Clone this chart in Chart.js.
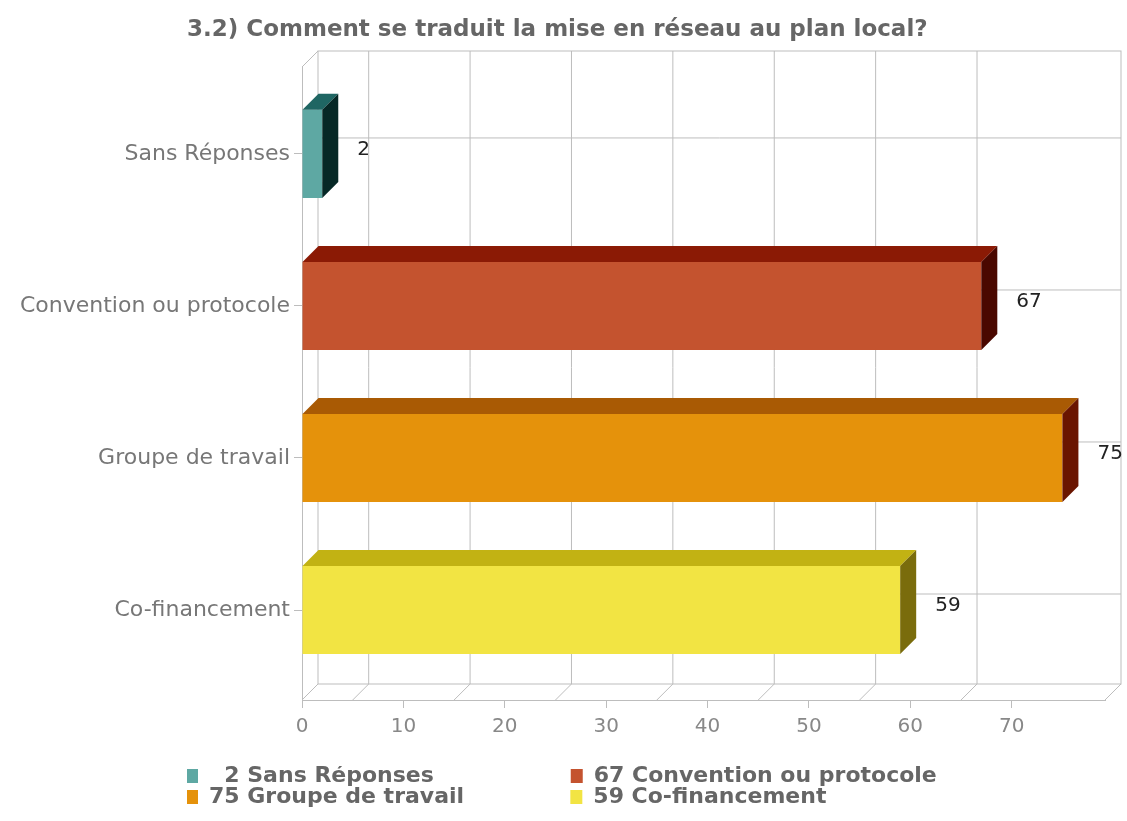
<!DOCTYPE html>
<html>
<head>
<meta charset="utf-8">
<script src="https://cdn.jsdelivr.net/npm/chart.js@4.4.1/dist/chart.umd.min.js"></script>
<style>
  html, body { margin: 0; padding: 0; background: #fff; }
  #wrap { width: 1127px; height: 821px; }
</style>
</head>
<body>
<div id="wrap"><canvas id="reseau"></canvas></div>
<script>
const categories = ['Sans Réponses', 'Convention ou protocole', 'Groupe de travail', 'Co-financement'];
const values = [2, 67, 75, 59];
const xTicks = [0, 10, 20, 30, 40, 50, 60, 70];
const backGrid = [5, 15, 25, 35, 45, 55, 65];

const frontColors = ['#5ea8a3', '#c4532f', '#e5920b', '#f2e443'];
const topColors = ['#1f6663', '#8b1a05', '#a95a04', '#c2b213'];
const sideColors = ['#062826', '#4a0800', '#6a1500', '#7a6c0c'];

const DX = 16, DY = 16;
const GRID = '#bdbdbd';
const LEGEND_FONT = 'bold 22px "DejaVu Sans"';

// pad legend text of first column so the second column lines up
const measure = document.createElement('canvas').getContext('2d');
measure.font = LEGEND_FONT;
function padTo(t, w) {
  while (measure.measureText(t).width < w) t += ' ';
  return t;
}

function line(ctx, x0, y0, x1, y1) {
  ctx.beginPath();
  ctx.moveTo(x0, y0);
  ctx.lineTo(x1, y1);
  ctx.stroke();
}

// back wall, floor and shifted grid lines of the 3D frame
const frame3d = {
  id: 'frame3d',
  beforeDatasetsDraw(chart) {
    const {ctx, chartArea: a, scales: {x, y}} = chart;
    const bx0 = a.left + DX, bx1 = a.right + DX;
    const by0 = a.top - DY, by1 = a.bottom - DY;
    ctx.save();
    ctx.strokeStyle = GRID;
    ctx.lineWidth = 1;
    ctx.strokeRect(bx0, by0, bx1 - bx0, by1 - by0);
    line(ctx, a.left, a.top, bx0, by0);
    line(ctx, a.left, a.bottom, bx0, by1);
    line(ctx, a.right, a.bottom, bx1, by1);
    backGrid.forEach(v => {
      const px = x.getPixelForValue(v);
      line(ctx, px + DX, by0, px + DX, by1);
      line(ctx, px, a.bottom, px + DX, by1);
    });
    categories.forEach((c, i) => {
      const py = y.getPixelForValue(i) - DY;
      line(ctx, bx0, py, bx1, py);
    });
    ctx.restore();
  }
};

// top and side faces of the bars plus value labels
const bars3d = {
  id: 'bars3d',
  afterDatasetsDraw(chart) {
    const {ctx} = chart;
    const meta = chart.getDatasetMeta(0);
    ctx.save();
    meta.data.forEach((el, i) => {
      const {x, y, base, height} = el.getProps(['x', 'y', 'base', 'height'], true);
      const top = y - height / 2, bottom = y + height / 2;
      ctx.fillStyle = topColors[i];
      ctx.beginPath();
      ctx.moveTo(base, top);
      ctx.lineTo(base + DX, top - DY);
      ctx.lineTo(x + DX, top - DY);
      ctx.lineTo(x, top);
      ctx.closePath();
      ctx.fill();
      ctx.fillStyle = sideColors[i];
      ctx.beginPath();
      ctx.moveTo(x, top);
      ctx.lineTo(x + DX, top - DY);
      ctx.lineTo(x + DX, bottom - DY);
      ctx.lineTo(x, bottom);
      ctx.closePath();
      ctx.fill();
      ctx.fillStyle = '#222';
      ctx.font = '20px "DejaVu Sans"';
      ctx.textAlign = 'left';
      ctx.textBaseline = 'middle';
      ctx.fillText(String(values[i]), x + 35, y - 4);
    });
    ctx.restore();
  }
};

new Chart(document.getElementById('reseau'), {
  type: 'bar',
  data: {
    datasets: [{
      data: values.map((v, i) => ({x: v, y: i})),
      backgroundColor: frontColors,
      borderWidth: 0,
      categoryPercentage: 1,
      barPercentage: 0.58
    }]
  },
  options: {
    indexAxis: 'y',
    responsive: true,
    maintainAspectRatio: false,
    animation: false,
    layout: { padding: { left: 187, right: 22, top: 0, bottom: 3 } },
    plugins: {
      tooltip: { enabled: false },
      title: {
        display: true,
        text: '3.2) Comment se traduit la mise en réseau au plan local?',
        align: 'start',
        color: '#666',
        font: { family: 'DejaVu Sans', size: 23, weight: 'bold' },
        padding: { top: 16, bottom: 23.4 }
      },
      legend: {
        position: 'bottom',
        align: 'start',
        labels: {
          boxWidth: 12,
          boxHeight: 14,
          padding: -1,
          color: '#666',
          font: { family: 'DejaVu Sans', size: 22, weight: 'bold' },
          generateLabels: () => categories.map((c, i) => {
            let t = String(values[i]).padStart(2, '\u2007') + ' ' + c;
            if (i % 2 === 0) t = padTo(t, 360);
            return {
              text: t,
              fillStyle: frontColors[i],
              strokeStyle: frontColors[i],
              fontColor: '#666',
              lineWidth: 0,
              hidden: false,
              index: i
            };
          })
        }
      }
    },
    scales: {
      x: {
        type: 'linear',
        min: 0,
        max: 79.2,
        afterBuildTicks: s => { s.ticks = xTicks.map(v => ({value: v})); },
        afterFit: s => { s.height = 66; },
        grid: { drawOnChartArea: false, drawTicks: true, tickLength: 8, color: GRID },
        border: { display: true, color: GRID },
        ticks: { color: '#888', padding: 7, font: { family: 'DejaVu Sans', size: 20 } }
      },
      y: {
        type: 'linear',
        reverse: true,
        offset: false,
        min: -0.572,
        max: 3.592,
        afterBuildTicks: s => { s.ticks = categories.map((c, i) => ({value: i})); },
        afterFit: s => {
          s.width = 115;
          // let the long labels run into the left padding
          s._computeLabelArea = () => undefined;
        },
        grid: { offset: false, drawOnChartArea: false, drawTicks: true, tickLength: 8, color: GRID },
        border: { display: true, color: GRID },
        ticks: {
          color: '#777',
          padding: 4,
          font: { family: 'DejaVu Sans', size: 22 },
          callback: v => categories[v]
        }
      }
    }
  },
  plugins: [frame3d, bars3d]
});
</script>
</body>
</html>
